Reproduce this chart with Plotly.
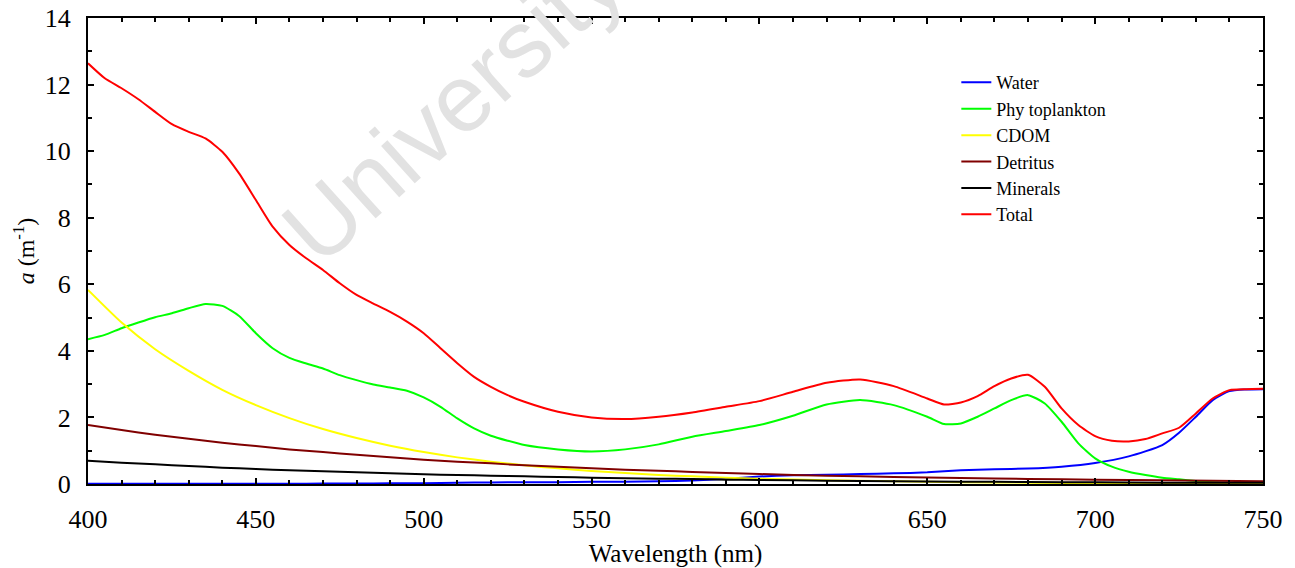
import plotly.graph_objects as go

# ---- data ----
wl5 = [400, 405, 410, 415, 420, 425, 430, 435, 440, 445, 450, 455, 460, 465, 470, 475,
       480, 485, 490, 495, 500, 505, 510, 515, 520, 525, 530, 540, 550, 560, 570, 580,
       590, 600, 610, 620, 630, 640, 650, 655, 660, 665, 670, 675, 680, 685, 690, 695,
       700, 705, 710, 715, 720, 725, 730, 735, 740, 745, 750]

total = [12.64, 12.19, 11.89, 11.56, 11.18, 10.81, 10.58, 10.38, 9.98, 9.33, 8.53, 7.73,
         7.18, 6.78, 6.43, 6.03, 5.68, 5.42, 5.17, 4.88, 4.53, 4.08, 3.63, 3.22, 2.92,
         2.67, 2.47, 2.17, 2.00, 1.95, 2.02, 2.15, 2.32, 2.49, 2.77, 3.04, 3.14, 2.94,
         2.57, 2.39, 2.45, 2.64, 2.94, 3.17, 3.28, 2.92, 2.27, 1.77, 1.44, 1.30, 1.28,
         1.35, 1.52, 1.69, 2.12, 2.57, 2.82, 2.85, 2.86]

phyto = [4.35, 4.48, 4.68, 4.85, 5.01, 5.13, 5.28, 5.41, 5.35, 5.05, 4.53, 4.08, 3.79,
         3.62, 3.47, 3.27, 3.12, 2.99, 2.90, 2.80, 2.60, 2.32, 1.97, 1.67, 1.45, 1.30,
         1.17, 1.04, 0.98, 1.04, 1.19, 1.42, 1.59, 1.77, 2.05, 2.39, 2.52, 2.37, 2.02,
         1.80, 1.82, 2.02, 2.27, 2.52, 2.67, 2.42, 1.87, 1.22, 0.77, 0.52, 0.37, 0.27,
         0.19, 0.14, 0.09, 0.05, 0.02, 0.01, 0.00]

wl10 = [400, 410, 420, 430, 440, 450, 460, 470, 480, 490, 500, 510, 520, 530, 540, 550,
        560, 570, 580, 590, 600, 620, 640, 660, 680, 700, 720, 750]

cdom = [5.83, 4.85, 4.05, 3.40, 2.83, 2.37, 1.98, 1.65, 1.38, 1.15, 0.96, 0.80, 0.67,
        0.56, 0.47, 0.39, 0.33, 0.27, 0.23, 0.19, 0.16, 0.11, 0.08, 0.055, 0.04, 0.027,
        0.02, 0.01]

detritus = [1.77, 1.62, 1.48, 1.36, 1.24, 1.14, 1.04, 0.96, 0.88, 0.80, 0.73, 0.67, 0.62,
            0.56, 0.52, 0.47, 0.43, 0.40, 0.36, 0.33, 0.30, 0.25, 0.21, 0.18, 0.15, 0.13,
            0.11, 0.08]

minerals = [0.70, 0.64, 0.59, 0.54, 0.49, 0.45, 0.41, 0.38, 0.35, 0.32, 0.29, 0.27, 0.25,
            0.23, 0.21, 0.19, 0.17, 0.16, 0.15, 0.13, 0.12, 0.10, 0.085, 0.07, 0.06, 0.05,
            0.04, 0.035]

wl_water = [400, 410, 420, 430, 440, 450, 460, 470, 480, 490, 500, 510, 520, 530, 540,
            550, 560, 570, 580, 590, 600, 610, 620, 630, 640, 650, 660, 670, 680, 690,
            700, 710, 720, 725, 730, 735, 740, 745, 750]
water = [0.007, 0.005, 0.005, 0.007, 0.009, 0.010, 0.010, 0.012, 0.015, 0.020, 0.026,
         0.036, 0.048, 0.051, 0.056, 0.064, 0.071, 0.080, 0.108, 0.157, 0.224, 0.264,
         0.276, 0.300, 0.320, 0.350, 0.410, 0.440, 0.465, 0.520, 0.630, 0.830, 1.170,
         1.540, 2.020, 2.520, 2.790, 2.840, 2.850]

x_ticks = [400, 450, 500, 550, 600, 650, 700, 750]
y_ticks = [0, 2, 4, 6, 8, 10, 12, 14]

series = [
    ("Water", wl_water, water, "#0000FF"),
    ("Phy toplankton", wl5, phyto, "#00FF00"),
    ("CDOM", wl10, cdom, "#FFFF00"),
    ("Detritus", wl10, detritus, "#800000"),
    ("Minerals", wl10, minerals, "#000000"),
    ("Total", wl5, total, "#FF0000"),
]

FONT = "Times New Roman"

fig = go.Figure()
for name, xs, ys, col in series:
    fig.add_trace(go.Scatter(x=xs, y=ys, name=name, mode="lines",
                             line=dict(color=col, width=2, shape="spline", smoothing=0.6)))

axis_common = dict(
    showline=True, linecolor="black", linewidth=2, mirror="allticks",
    ticks="inside", ticklen=6, tickwidth=1.5, tickcolor="black",
    showgrid=False, zeroline=False, automargin=False,
    tickfont=dict(family=FONT, size=26, color="black"),
)

fig.update_xaxes(range=[400, 750], tickvals=x_ticks,
                 minor=dict(dtick=10, ticks="inside", ticklen=4, tickcolor="black", tickwidth=1.5),
                 title=dict(text="Wavelength (nm)", font=dict(family=FONT, size=25, color="black"),
                            standoff=17),
                 ticklabelstandoff=11,
                 **axis_common)
fig.update_yaxes(range=[0, 14], tickvals=y_ticks,
                 minor=dict(dtick=1, ticks="inside", ticklen=4, tickcolor="black", tickwidth=1.5),
                 title=dict(text="<i>a</i> (m<sup>-1</sup>)", font=dict(family=FONT, size=24, color="black"),
                            standoff=3),
                 ticklabelstandoff=10,
                 **axis_common)

fig.add_annotation(text="University", x=0.311, y=0.815, xref="paper", yref="paper",
                   xanchor="center", yanchor="middle",
                   showarrow=False, textangle=-42,
                   font=dict(family="Liberation Sans", size=95, color="#e2e2e2"))

fig.update_layout(
    width=1295, height=568,
    margin=dict(l=88, r=32, t=18, b=84),
    paper_bgcolor="white", plot_bgcolor="white",
    showlegend=True,
    legend=dict(x=0.739, y=0.901, xanchor="left", yanchor="top",
                bgcolor="rgba(0,0,0,0)", borderwidth=0,
                font=dict(family=FONT, size=18, color="black"),
                tracegroupgap=0),
)

fig.write_html("out.html")
